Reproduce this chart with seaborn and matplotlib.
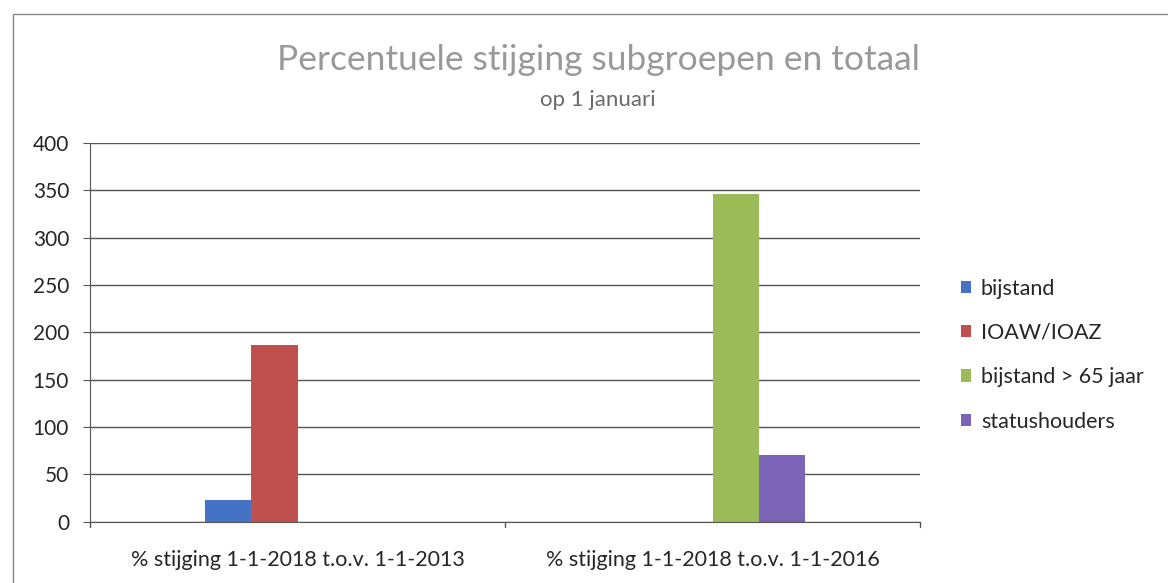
import matplotlib
matplotlib.use("Agg")
import matplotlib.pyplot as plt
import numpy as np
import pandas as pd
import seaborn as sns
from matplotlib.patches import Rectangle

# Data
categories = ["% stijging 1-1-2018 t.o.v. 1-1-2013", "% stijging 1-1-2018 t.o.v. 1-1-2016"]
series = ["bijstand", "IOAW/IOAZ", "bijstand > 65 jaar", "statushouders"]
values_2013 = [23, 187, 0, 0]
values_2016 = [0, 0, 346, 71]
colors = ["#4472C4", "#C0504D", "#9BBB59", "#7B63B5"]

rows = []
for s, a, b in zip(series, values_2013, values_2016):
    rows.append({"cat": categories[0], "serie": s, "val": a})
    rows.append({"cat": categories[1], "serie": s, "val": b})
df = pd.DataFrame(rows)

sns.set_style("white")
plt.rcParams["font.family"] = ["Lato", "DejaVu Sans"]

fig = plt.figure(figsize=(11.68, 5.83), dpi=100)
ax = fig.add_axes([0.077, 0.105, 0.711, 0.650])

sns.barplot(data=df, x="cat", y="val", hue="serie", order=categories,
            hue_order=series, palette=colors, width=0.445, gap=0,
            saturation=1, edgecolor="none", ax=ax)

ax.set_ylim(0, 400)
ax.set_xlim(-0.5, 1.5)
ax.set_yticks(np.arange(0, 401, 50))
ax.yaxis.grid(True, color="#555555", linewidth=1.0)
ax.set_axisbelow(True)
for side in ["top", "right"]:
    ax.spines[side].set_visible(False)
for side in ["left", "bottom"]:
    ax.spines[side].set_color("#555555")
ax.set_xlabel("")
ax.set_ylabel("")
ax.tick_params(axis="y", labelsize=15, length=5, color="#555555", left=True, pad=10)
ax.set_xticks([0, 1])
ax.set_xticklabels(categories, fontsize=15.5)
ax.tick_params(axis="x", length=0, pad=20)
# boundary ticks on x axis
for xb in [-0.5, 0.5, 1.5]:
    ax.plot([xb, xb], [0, -6], color="#555555", linewidth=1, clip_on=False)

ax.legend(loc="center left", bbox_to_anchor=(1.025, 0.44), frameon=False,
          fontsize=15.5, handlelength=0.5, handleheight=0.5, handletextpad=0.45,
          labelspacing=1.13)

fig.text(0.512, 0.897, "Percentuele stijging subgroepen en totaal", ha="center",
         va="center", fontsize=25.5, color="#999999")
fig.text(0.512, 0.828, "op 1 januari", ha="center", va="center", fontsize=16,
         color="#6a6a6a")

fig.patches.append(Rectangle((0.011, -0.02), 1.1, 0.996, transform=fig.transFigure,
                             fill=False, edgecolor="#888888", linewidth=1))

fig.savefig("out.png", dpi=100)
